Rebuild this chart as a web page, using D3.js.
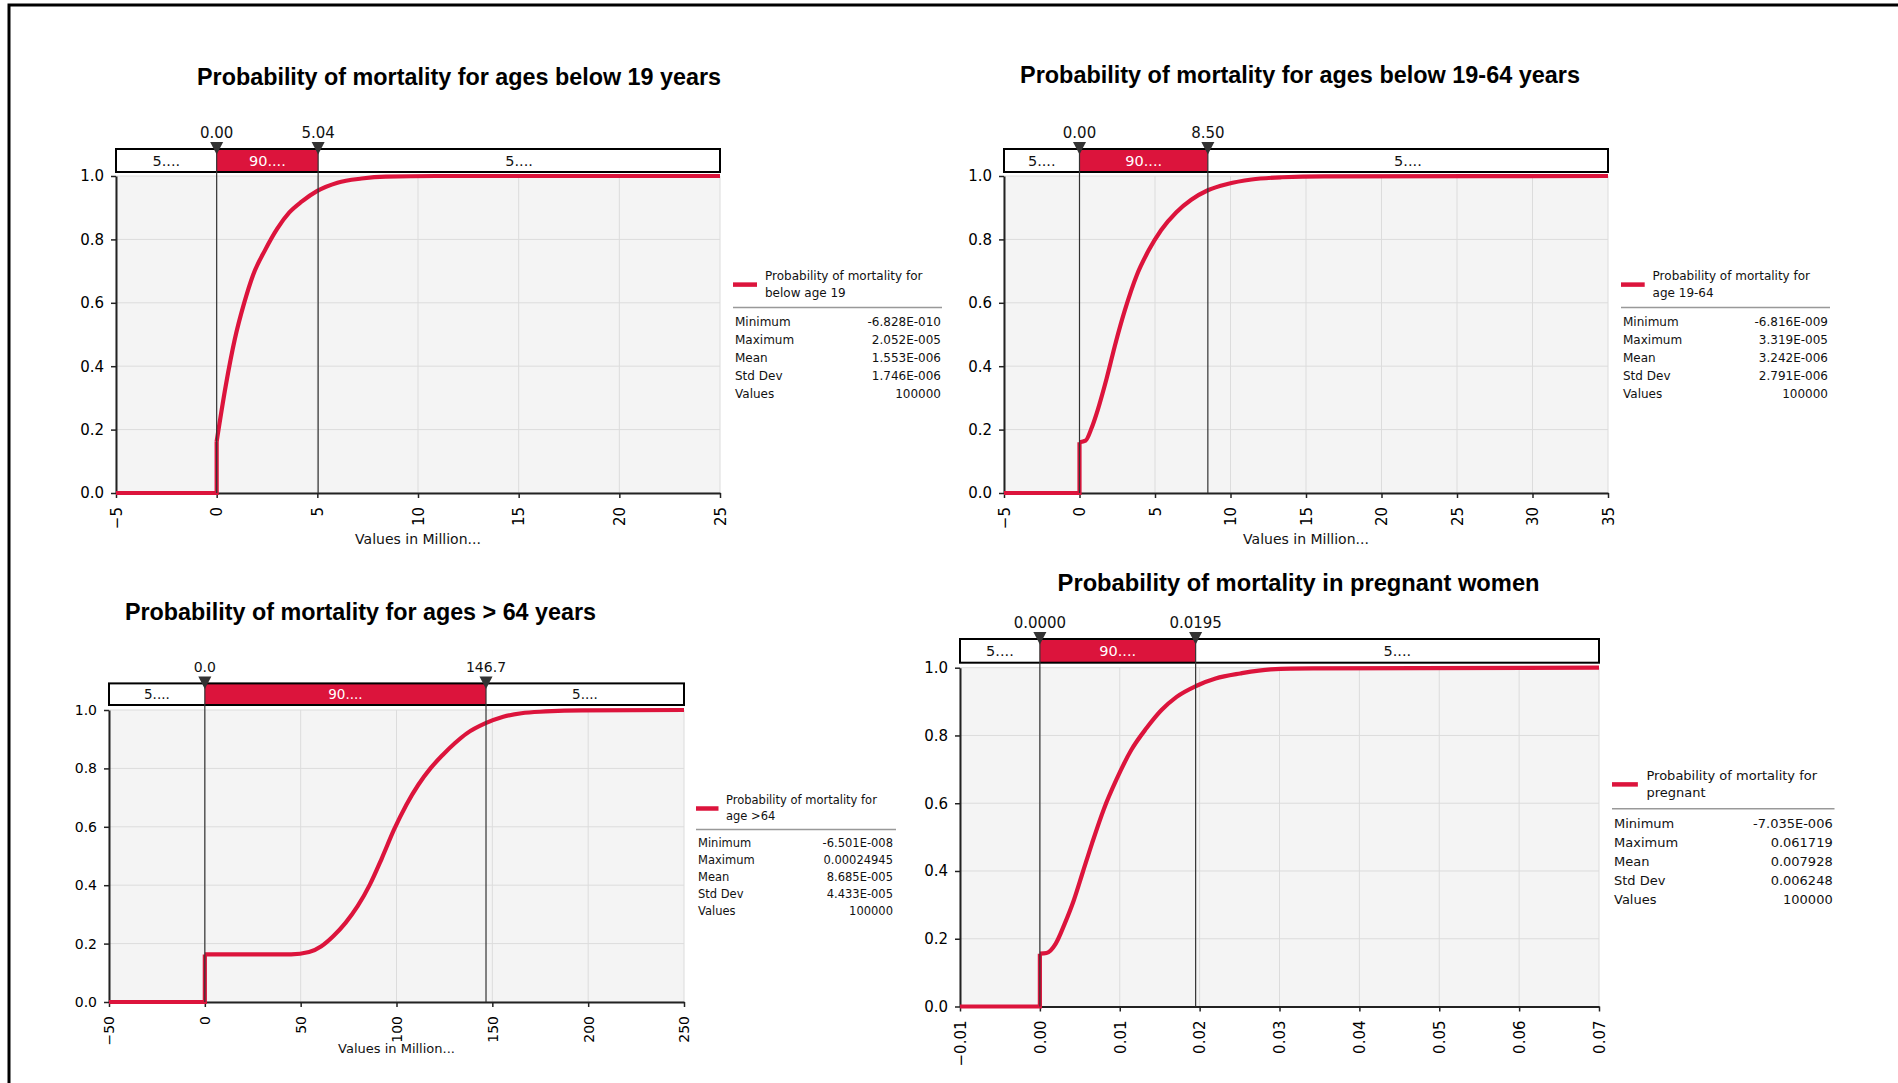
<!DOCTYPE html>
<html lang="en">
<head>
<meta charset="utf-8">
<title>Probability of mortality</title>
<script src="https://cdn.jsdelivr.net/npm/d3@7"></script>
<style>
  body { margin: 0; background: #fff; }
  text { font-family: "DejaVu Sans", Verdana, sans-serif; fill: #111; }
  .title { font-family: "Liberation Sans", Arial, sans-serif; font-weight: bold; fill: #000; }
</style>
</head>
<body>
<script>

// Chart titles
var titles = ["Probability of mortality for ages below 19 years",
              "Probability of mortality for ages below 19-64 years",
              "Probability of mortality for ages > 64 years",
              "Probability of mortality in pregnant women"];

// X axis ticks (values in million, last one plain)
var xTicks19   = [-5, 0, 5, 10, 15, 20, 25];
var xTicks1964 = [-5, 0, 5, 10, 15, 20, 25, 30, 35];
var xTicks64   = [-50, 0, 50, 100, 150, 200, 250];
var xTicksPreg = [-0.01, 0, 0.01, 0.02, 0.03, 0.04, 0.05, 0.06, 0.07];
var yTicks     = [0, 0.2, 0.4, 0.6, 0.8, 1.0];

// Cumulative curves
var cdfX19 = [-5, 0, 0, 0.45, 0.9, 1.36, 1.81, 2.41, 3.01, 3.61, 4.22, 5.0, 6.0, 7.2, 8.4, 10.9, 25];
var cdfP19 = [0, 0, 0.163, 0.338, 0.485, 0.598, 0.688, 0.767, 0.834, 0.885, 0.919, 0.953, 0.979, 0.992, 0.998, 1.0, 1.0];

var cdfX1964 = [-5, 0, 0, 0.4, 0.8, 1.2, 1.8, 2.4, 3.0, 3.8, 4.6, 5.4, 6.4, 7.4, 8.5, 9.8, 11.4, 13.4, 16.2, 35];
var cdfP1964 = [0, 0, 0.16, 0.165, 0.205, 0.261, 0.362, 0.475, 0.576, 0.688, 0.767, 0.829, 0.885, 0.925, 0.955, 0.975, 0.989, 0.996, 0.999, 1.0];

var cdfX64 = [-50, 0, 0, 45, 54.4, 60.8, 67.1, 73.4, 79.7, 86.1, 92.4, 98.7, 105.1, 111.4, 117.7, 124.1, 130.4, 136.7, 146.2, 155.7, 165.2, 177.8, 196.8, 250];
var cdfP64 = [0, 0, 0.163, 0.163, 0.171, 0.191, 0.226, 0.271, 0.328, 0.402, 0.493, 0.59, 0.675, 0.744, 0.8, 0.846, 0.886, 0.92, 0.954, 0.977, 0.989, 0.995, 0.999, 1.0];

var cdfXPreg = [-0.01, 0, 0, 0.00083, 0.00197, 0.0031, 0.00424, 0.00538, 0.00652, 0.00803, 0.00955, 0.01144, 0.01333, 0.01523, 0.01712, 0.01955, 0.022, 0.0251, 0.0289, 0.0342, 0.07];
var cdfPPreg = [0, 0, 0.156, 0.158, 0.185, 0.244, 0.313, 0.397, 0.481, 0.584, 0.668, 0.757, 0.821, 0.875, 0.914, 0.946, 0.968, 0.983, 0.995, 0.998, 1.0];

// 5% / 95% cut points and their labels
var cuts19 = [0, 5.04],       cutLabels19 = ["0.00", "5.04"];
var cuts1964 = [0, 8.5],      cutLabels1964 = ["0.00", "8.50"];
var cuts64 = [0, 146.7],      cutLabels64 = ["0.0", "146.7"];
var cutsPreg = [0, 0.0195],   cutLabelsPreg = ["0.0000", "0.0195"];
var bandLabels = ["5....", "90....", "5...."];

// Legend + statistics
var legend19   = ["Probability of mortality for", "below age 19"];
var legend1964 = ["Probability of mortality for", "age 19-64"];
var legend64   = ["Probability of mortality for", "age >64"];
var legendPreg = ["Probability of mortality for", "pregnant"];
var statNames = ["Minimum", "Maximum", "Mean", "Std Dev", "Values"];
var stats19   = ["-6.828E-010", "2.052E-005", "1.553E-006", "1.746E-006", "100000"];
var stats1964 = ["-6.816E-009", "3.319E-005", "3.242E-006", "2.791E-006", "100000"];
var stats64   = ["-6.501E-008", "0.00024945", "8.685E-005", "4.433E-005", "100000"];
var statsPreg = ["-7.035E-006", "0.061719", "0.007928", "0.006248", "100000"];

var red = "#dc143c";

var svg = d3.select("body")
            .append("svg")
            .attr("width", 1898)
            .attr("height", 1083);

// outer frame (top and left edges only are visible)
svg.append("path")
   .attr("d", "M9,1083 L9,5 L1898,5")
   .attr("fill", "none")
   .attr("stroke", "#000")
   .attr("stroke-width", 3);

// layout of each panel (xtDy null = axis title falls outside the picture)
var panels = [
  {title: titles[0], tcx: 459, ty: 85, tw: 524,
   x0: 116, x1: 720, y0: 176, y1: 493, b0: 149, b1: 172, font: 15, xtDy: 51,
   domain: [-5, 25], ticks: xTicks19, fmt: d3.format("d"),
   cx: cdfX19, cp: cdfP19, cuts: cuts19, cutLabels: cutLabels19,
   legend: legend19, stats: stats19,
   lg: {x: 733, lineY: 284.6, textX: 765, t1: 280, t2: 297, sepY: 307.5, sepX: 942, row0: 326, step: 18, valX: 941, font: 12}},
  {title: titles[1], tcx: 1300, ty: 83, tw: 560,
   x0: 1004, x1: 1608, y0: 176, y1: 493, b0: 149, b1: 172, font: 15, xtDy: 51,
   domain: [-5, 35], ticks: xTicks1964, fmt: d3.format("d"),
   cx: cdfX1964, cp: cdfP1964, cuts: cuts1964, cutLabels: cutLabels1964,
   legend: legend1964, stats: stats1964,
   lg: {x: 1621, lineY: 284.6, textX: 1652.6, t1: 280, t2: 297, sepY: 307.5, sepX: 1830, row0: 326, step: 18, valX: 1828, font: 12}},
  {title: titles[2], tcx: 360.5, ty: 620, tw: 471,
   x0: 109, x1: 684, y0: 710, y1: 1002, b0: 683.4, b1: 705, font: 14, xtDy: 51,
   domain: [-50, 250], ticks: xTicks64, fmt: d3.format("d"),
   cx: cdfX64, cp: cdfP64, cuts: cuts64, cutLabels: cutLabels64,
   legend: legend64, stats: stats64,
   lg: {x: 696, lineY: 808.5, textX: 726, t1: 804, t2: 820, sepY: 829.5, sepX: 896, row0: 847, step: 17, valX: 893, font: 11.5}},
  {title: titles[3], tcx: 1298.6, ty: 591, tw: 482,
   x0: 960, x1: 1599, y0: 667.7, y1: 1006.5, b0: 639, b1: 662.7, font: 15, xtDy: null,
   domain: [-0.01, 0.07], ticks: xTicksPreg, fmt: d3.format(".2f"),
   cx: cdfXPreg, cp: cdfPPreg, cuts: cutsPreg, cutLabels: cutLabelsPreg,
   legend: legendPreg, stats: statsPreg,
   lg: {x: 1612, lineY: 784.4, textX: 1646.5, t1: 779.5, t2: 797, sepY: 808.8, sepX: 1834.5, row0: 827.5, step: 19, valX: 1832.7, font: 13}}
];

panels.forEach(drawPanel);

function drawPanel(p) {
  var g = svg.append("g");

  var xScale = d3.scaleLinear().domain(p.domain).range([p.x0, p.x1]);
  var yScale = d3.scaleLinear().domain([0, 1]).range([p.y1, p.y0]);

  // title
  g.append("text")
   .attr("class", "title")
   .attr("x", p.tcx - p.tw / 2)
   .attr("y", p.ty)
   .attr("font-size", 23)
   .attr("textLength", p.tw)
   .attr("lengthAdjust", "spacingAndGlyphs")
   .text(p.title);

  // plot background
  g.append("rect")
   .attr("x", p.x0).attr("y", p.y0)
   .attr("width", p.x1 - p.x0).attr("height", p.y1 - p.y0)
   .attr("fill", "#f4f4f4");

  // grid
  g.selectAll(".vgrid").data(p.ticks).enter()
   .append("line")
   .attr("x1", function(d) { return xScale(d); })
   .attr("x2", function(d) { return xScale(d); })
   .attr("y1", p.y0).attr("y2", p.y1)
   .attr("stroke", "#dcdcdc").attr("stroke-width", 1);
  g.selectAll(".hgrid").data(yTicks).enter()
   .append("line")
   .attr("x1", p.x0).attr("x2", p.x1)
   .attr("y1", function(d) { return yScale(d); })
   .attr("y2", function(d) { return yScale(d); })
   .attr("stroke", "#dcdcdc").attr("stroke-width", 1);

  // axes
  var xAxis = d3.axisBottom(xScale).tickValues(p.ticks).tickFormat(p.fmt)
                .tickSize(5).tickSizeOuter(0);
  var gx = g.append("g")
            .attr("transform", "translate(0," + p.y1 + ")")
            .call(xAxis);
  gx.selectAll("text")
    .attr("transform", "rotate(-90)")
    .attr("x", -14).attr("y", 0).attr("dy", "0.35em")
    .attr("text-anchor", "end")
    .attr("font-size", p.font)
    .attr("font-family", "DejaVu Sans")
    .style("fill", "#000");

  var yAxis = d3.axisLeft(yScale).tickValues(yTicks).tickFormat(d3.format(".1f"))
                .tickSize(5).tickSizeOuter(0).tickPadding(7);
  var gy = g.append("g")
            .attr("transform", "translate(" + p.x0 + ",0)")
            .call(yAxis);
  gy.selectAll("text")
    .attr("font-size", p.font)
    .attr("font-family", "DejaVu Sans")
    .style("fill", "#000");

  [gx, gy].forEach(function(a) {
    a.select(".domain").attr("stroke", "#222").attr("stroke-width", 2);
    a.selectAll(".tick line").attr("stroke", "#222").attr("stroke-width", 1.5);
  });

  // x axis title
  if (p.xtDy != null) {
    g.append("text")
     .attr("x", (p.x0 + p.x1) / 2)
     .attr("y", p.y1 + p.xtDy)
     .attr("text-anchor", "middle")
     .attr("font-size", p.font - 1)
     .text("Values in Million...");
  }

  // cumulative curve: floor + jump, then the rise
  var pts = p.cx.map(function(x, i) { return [x, p.cp[i]]; });
  var line = d3.line()
               .x(function(d) { return xScale(d[0]); })
               .y(function(d) { return yScale(d[1]); });
  g.append("path")
   .attr("d", line(pts.slice(0, 3)))
   .attr("fill", "none").attr("stroke", red).attr("stroke-width", 4.2);
  g.append("path")
   .attr("d", line.curve(d3.curveMonotoneX)(pts.slice(2)))
   .attr("fill", "none").attr("stroke", red).attr("stroke-width", 4.2)
   .attr("stroke-linejoin", "round");

  // band box with 5 / 90 / 5 sections
  var c0 = xScale(p.cuts[0]), c1 = xScale(p.cuts[1]);
  g.append("rect")
   .attr("x", p.x0).attr("y", p.b0)
   .attr("width", p.x1 - p.x0).attr("height", p.b1 - p.b0)
   .attr("fill", "#fff");
  g.append("rect")
   .attr("x", c0).attr("y", p.b0)
   .attr("width", c1 - c0).attr("height", p.b1 - p.b0)
   .attr("fill", red);
  g.append("rect")
   .attr("x", p.x0).attr("y", p.b0)
   .attr("width", p.x1 - p.x0).attr("height", p.b1 - p.b0)
   .attr("fill", "none").attr("stroke", "#000").attr("stroke-width", 2);

  var mids = [(p.x0 + c0) / 2, (c0 + c1) / 2, (c1 + p.x1) / 2];
  g.selectAll(".bandtxt").data(bandLabels).enter()
   .append("text")
   .attr("x", function(d, i) { return mids[i]; })
   .attr("y", (p.b0 + p.b1) / 2)
   .attr("dy", "0.35em")
   .attr("text-anchor", "middle")
   .attr("font-size", p.font - 0.5)
   .style("fill", function(d, i) { return i == 1 ? "#fff" : "#111"; })
   .text(function(d) { return d; });

  // cut markers: lines, triangles, labels
  p.cuts.forEach(function(v, i) {
    var cx = xScale(v);
    g.append("line")
     .attr("x1", cx).attr("x2", cx)
     .attr("y1", p.b0).attr("y2", p.y1)
     .attr("stroke", "#333").attr("stroke-width", 1.2);
    g.append("path")
     .attr("d", "M" + (cx - 6.5) + "," + (p.b0 - 7) + " L" + (cx + 6.5) + "," + (p.b0 - 7) + " L" + cx + "," + (p.b0 + 5.5) + " Z")
     .attr("fill", "#333");
    g.append("text")
     .attr("x", cx)
     .attr("y", p.b0 - 11.5)
     .attr("text-anchor", "middle")
     .attr("font-size", p.font)
     .text(p.cutLabels[i]);
  });

  // legend
  var lg = p.lg;
  g.append("line")
   .attr("x1", lg.x).attr("x2", lg.x + (lg.textX - lg.x) * 0.75)
   .attr("y1", lg.lineY).attr("y2", lg.lineY)
   .attr("stroke", red).attr("stroke-width", 4.5);
  g.append("text").attr("x", lg.textX).attr("y", lg.t1)
   .attr("font-size", lg.font).text(p.legend[0]);
  g.append("text").attr("x", lg.textX).attr("y", lg.t2)
   .attr("font-size", lg.font).text(p.legend[1]);
  g.append("line")
   .attr("x1", lg.x).attr("x2", lg.sepX)
   .attr("y1", lg.sepY).attr("y2", lg.sepY)
   .attr("stroke", "#999").attr("stroke-width", 1.5);

  statNames.forEach(function(name, i) {
    g.append("text")
     .attr("x", lg.x + 2).attr("y", lg.row0 + i * lg.step)
     .attr("font-size", lg.font).text(name);
    g.append("text")
     .attr("x", lg.valX).attr("y", lg.row0 + i * lg.step)
     .attr("text-anchor", "end")
     .attr("font-size", lg.font).text(p.stats[i]);
  });
}

</script>
</body>
</html>
